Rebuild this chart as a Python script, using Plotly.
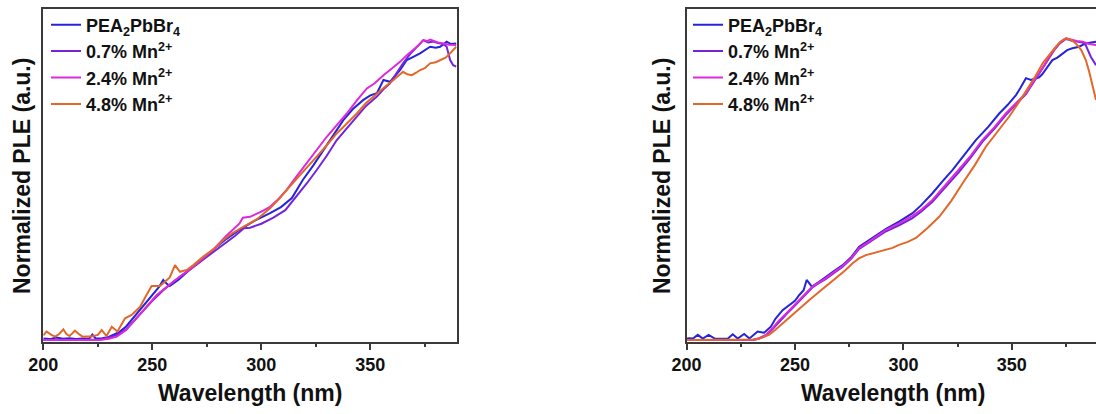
import plotly.graph_objects as go

# ---------------- data: normalized PLE spectra ----------------
# Left panel
left_pea_x = [200, 203, 206, 209, 212, 215, 218, 221, 222.5, 224, 227, 230, 233, 235, 238, 243, 249, 253, 255, 256,
              258, 262, 267, 272, 278, 284, 290, 297, 304, 309, 314, 319, 324, 328.5, 333, 337.6, 342, 346.8, 350,
              353, 356, 359, 363.6, 366.7, 369, 372.8, 377.4, 380, 382, 385, 387, 389.4]
left_pea_y = [0.005, 0.003, 0.008, 0.004, 0.006, 0.003, 0.005, 0.004, 0.018, 0.005, 0.006, 0.01, 0.02, 0.027, 0.045,
              0.088, 0.143, 0.175, 0.199, 0.19, 0.179, 0.2, 0.232, 0.26, 0.30, 0.335, 0.365, 0.395, 0.42, 0.44, 0.47,
              0.53, 0.58, 0.629, 0.68, 0.728, 0.765, 0.795, 0.81, 0.817, 0.861, 0.855, 0.894, 0.927, 0.935, 0.949,
              0.971, 0.968, 0.971, 0.988, 0.98, 0.982]

left_07_x = [200, 210, 220, 226, 230, 234, 238, 242, 246, 250, 255, 260, 265, 270, 276, 282, 288, 292, 294.8, 300,
             305.5, 311, 316.2, 321, 325.4, 330, 334.6, 339, 343.8, 348, 353, 356, 359, 362, 365, 368, 371.3, 374.3,
             376.5, 378.9, 381, 383.5, 385, 386.6, 388, 389.4]
left_07_y = [0, 0, 0, 0.002, 0.008, 0.018, 0.035, 0.065, 0.098, 0.13, 0.165, 0.195, 0.222, 0.25, 0.28, 0.315, 0.345,
             0.37, 0.372, 0.385, 0.405, 0.43, 0.475, 0.52, 0.563, 0.61, 0.662, 0.70, 0.74, 0.775, 0.806, 0.83, 0.85,
             0.885, 0.916, 0.945, 0.971, 0.993, 0.985, 0.988, 0.983, 0.98, 0.971, 0.927, 0.91, 0.905]

left_24_x = [200, 210, 220, 226, 230, 233.7, 238, 241, 244.4, 248, 252, 256, 259.6, 263, 267, 272, 278, 284, 290,
             291.5, 294.8, 300, 304, 308, 311.6, 316, 320.8, 325, 330, 335, 339.2, 344, 348.4, 352, 356, 360, 363.6,
             367, 369.7, 372, 374.3, 376, 377.4, 379, 381, 383.5, 386, 389.4]
left_24_y = [0, 0, 0, 0, 0.004, 0.011, 0.033, 0.058, 0.088, 0.118, 0.149, 0.172, 0.193, 0.212, 0.232, 0.262, 0.30,
             0.345, 0.386, 0.405, 0.408, 0.425, 0.441, 0.468, 0.497, 0.54, 0.585, 0.628, 0.673, 0.715, 0.75, 0.795,
             0.833, 0.85, 0.877, 0.90, 0.921, 0.945, 0.96, 0.975, 0.993, 0.99, 0.995, 0.99, 0.985, 0.982, 0.978, 0.977]

left_48_x = [200, 201.5, 203.5, 205.4, 207.3, 209.2, 210.6, 212, 213.3, 214.5, 216.3, 218, 220, 222, 225, 226.8, 229,
             231.4, 234, 237.5, 240.5, 244.4, 247, 249.7, 253.5, 255.8, 258, 260.4, 262.7, 265.8, 268.8, 273.4, 278,
             282.6, 287, 291.7, 298, 304, 308.5, 313, 319, 325.4, 330, 334.6, 339, 343.8, 348, 353, 357, 360.6, 363,
             365, 367, 369, 371, 372.8, 375, 377.4, 380, 382, 384.5, 386.6, 388, 389.4]
left_48_y = [0.015, 0.028, 0.018, 0.011, 0.02, 0.035, 0.02, 0.013, 0.022, 0.031, 0.02, 0.011, 0.012, 0.012, 0.017,
             0.033, 0.013, 0.044, 0.028, 0.072, 0.083, 0.11, 0.145, 0.179, 0.179, 0.193, 0.207, 0.248, 0.226, 0.232,
             0.248, 0.276, 0.30, 0.331, 0.355, 0.375, 0.40, 0.436, 0.47, 0.508, 0.555, 0.607, 0.645, 0.684, 0.715,
             0.75, 0.785, 0.817, 0.84, 0.861, 0.875, 0.888, 0.88, 0.877, 0.885, 0.894, 0.90, 0.916, 0.92, 0.927,
             0.935, 0.949, 0.96, 0.971]

# Right panel
right_pea_x = [200, 201.3, 203, 205.2, 207.5, 210.2, 213, 216, 219, 221.3, 223.6, 226.6, 229, 232.8, 235.8, 238.9,
               241, 244.3, 247.4, 250, 252, 254, 255.4, 257.8, 261, 264.3, 268, 272, 276, 279.6, 284, 288, 292, 298,
               304.2, 308, 313.4, 318, 322.7, 328, 333.4, 339, 344.2, 348, 351.9, 354, 356.5, 358.8, 361, 362.6, 364,
               366.4, 368.7, 371, 373.3, 375.5, 377.9, 381, 384, 386, 388.8]
right_pea_y = [0.004, 0.006, 0.005, 0.017, 0.005, 0.017, 0.005, 0.004, 0.004, 0.019, 0.005, 0.02, 0.005, 0.028, 0.024,
               0.044, 0.07, 0.099, 0.116, 0.13, 0.149, 0.165, 0.199, 0.177, 0.192, 0.21, 0.228, 0.248, 0.275, 0.309,
               0.33, 0.348, 0.368, 0.392, 0.42, 0.445, 0.486, 0.525, 0.563, 0.612, 0.662, 0.705, 0.75, 0.778, 0.811,
               0.835, 0.867, 0.861, 0.865, 0.87, 0.88, 0.905, 0.927, 0.935, 0.949, 0.96, 0.966, 0.971, 0.982, 0.985,
               0.988]

right_07_x = [200, 215, 225, 230.5, 233.5, 236.6, 239.5, 242.8, 246, 249, 253, 258, 261, 264.3, 268, 272, 276, 279.6,
              284, 288, 292, 298, 304, 308, 313.4, 319, 325.6, 331, 336.4, 342, 347.2, 352, 356.5, 359.5, 362.6, 365,
              367.2, 369.5, 371.8, 373.5, 374.9, 376.5, 378, 380, 382.6, 384, 386.4, 388.8]
right_07_y = [0, 0, 0, 0, 0.005, 0.015, 0.035, 0.062, 0.085, 0.107, 0.137, 0.174, 0.188, 0.202, 0.222, 0.243, 0.27,
              0.302, 0.322, 0.342, 0.36, 0.38, 0.403, 0.424, 0.458, 0.503, 0.556, 0.604, 0.656, 0.70, 0.745, 0.781,
              0.814, 0.848, 0.882, 0.908, 0.936, 0.96, 0.98, 0.99, 0.997, 0.994, 0.99, 0.988, 0.985, 0.977, 0.938, 0.91]

right_24_x = [200, 215, 225, 230.5, 233.5, 236.6, 239.5, 242.8, 246, 249, 253, 258, 261, 264.3, 268, 272, 276, 279.6,
              284, 288, 292, 298, 304, 308, 313.4, 319, 325.6, 331, 336.4, 342, 347.2, 352, 356.5, 359.5, 362.6, 365,
              367.2, 369.5, 371.8, 373.5, 374.9, 376.5, 378, 380, 382.6, 385.7, 388.8]
right_24_y = [0, 0, 0, 0, 0.006, 0.017, 0.038, 0.066, 0.088, 0.11, 0.14, 0.177, 0.19, 0.205, 0.225, 0.245, 0.272,
              0.305, 0.325, 0.345, 0.365, 0.386, 0.41, 0.43, 0.464, 0.51, 0.563, 0.61, 0.662, 0.705, 0.75, 0.785, 0.817,
              0.85, 0.883, 0.91, 0.938, 0.962, 0.982, 0.992, 0.999, 0.996, 0.993, 0.99, 0.988, 0.98, 0.977]

right_48_x = [200, 215, 225, 232, 235, 238, 241, 244.3, 248, 252, 256.5, 261.2, 265, 268.9, 272.7, 276.6, 279.5, 282.7,
              287, 292, 295, 298, 302, 305.8, 311, 316.5, 322, 327.3, 333, 338, 343.5, 348.8, 353.5, 358, 361, 364.2,
              367.2, 370.3, 372.5, 374.9, 377, 379.5, 382, 384.1, 385.6, 387.2, 388.8]
right_48_y = [0, 0, 0, 0.002, 0.008, 0.017, 0.034, 0.055, 0.08, 0.105, 0.132, 0.16, 0.182, 0.204, 0.228, 0.254, 0.27,
              0.281, 0.29, 0.298, 0.305, 0.315, 0.325, 0.338, 0.37, 0.408, 0.46, 0.519, 0.58, 0.64, 0.69, 0.74, 0.79,
              0.839, 0.875, 0.916, 0.945, 0.971, 0.988, 0.999, 0.995, 0.982, 0.96, 0.927, 0.89, 0.839, 0.795]

series_names = ["PEA<sub>2</sub>PbBr<sub>4</sub>", "0.7% Mn<sup>2+</sup>", "2.4% Mn<sup>2+</sup>", "4.8% Mn<sup>2+</sup>"]
series_colors = ["#2424d8", "#7424dc", "#dc2ada", "#e2682a"]

x_ticks = [200, 250, 300, 350]
x_minor_ticks = [225, 275, 325, 375]
x_title = "Wavelength (nm)"
y_title = "Normalized PLE (a.u.)"

# ---------------- figure ----------------
W, H = 1096, 414
FONT = "Liberation Sans, Arial, sans-serif"
AXIS_COLOR = "#3a3a3a"
LINE_W = 2.0

fig = go.Figure()

left_sets = [(left_pea_x, left_pea_y), (left_07_x, left_07_y), (left_24_x, left_24_y), (left_48_x, left_48_y)]
right_sets = [(right_pea_x, right_pea_y), (right_07_x, right_07_y), (right_24_x, right_24_y), (right_48_x, right_48_y)]

for (xs, ys), name, color in zip(left_sets, series_names, series_colors):
    fig.add_trace(go.Scatter(x=xs, y=ys, mode="lines", name=name, line=dict(color=color, width=LINE_W),
                             xaxis="x", yaxis="y", legend="legend"))
for (xs, ys), name, color in zip(right_sets, series_names, series_colors):
    fig.add_trace(go.Scatter(x=xs, y=ys, mode="lines", name=name, line=dict(color=color, width=LINE_W),
                             xaxis="x2", yaxis="y2", legend="legend2"))

px = lambda p: p / W
py = lambda p: 1 - p / H

y_dom = [py(342), py(8.5)]
y_range = [-0.0066, 1.0977]

x_common = dict(
    tickvals=x_ticks, ticks="outside", ticklen=6, tickwidth=1.5, tickcolor=AXIS_COLOR,
    showline=True, linecolor=AXIS_COLOR, linewidth=1.5, mirror=True, showgrid=False, zeroline=False,
    tickfont=dict(family=FONT, size=18, color="#111111", weight="bold"), automargin=False,
    minor=dict(tickvals=x_minor_ticks, ticks="outside", ticklen=3, tickwidth=1.5, tickcolor=AXIS_COLOR),
)
y_common = dict(range=y_range, showticklabels=False, ticks="", showline=True, linecolor=AXIS_COLOR,
                linewidth=1.5, showgrid=False, zeroline=False, domain=y_dom, automargin=False)

legend_common = dict(
    font=dict(family=FONT, size=18, color="#111111", weight="bold"),
    bgcolor="rgba(0,0,0,0)", borderwidth=0, tracegroupgap=0,
    xanchor="left", yanchor="top",
)

fig.update_layout(
    width=W, height=H, margin=dict(l=0, r=0, t=0, b=0, autoexpand=False),
    paper_bgcolor="white", plot_bgcolor="white",
    xaxis=dict(domain=[px(43.3), px(456.7)], range=[200, 389.6], anchor="y", **x_common),
    yaxis=dict(anchor="x", mirror=True, **y_common),
    xaxis2=dict(domain=[px(686.5), 1.0], range=[200, 388.8], anchor="y2", **x_common),
    yaxis2=dict(anchor="x2", mirror=False, **y_common),
    legend=dict(x=px(46), y=py(6.5), **legend_common),
    legend2=dict(x=px(688), y=py(6.5), **legend_common),
    showlegend=True,
)

title_font = dict(family=FONT, size=23, color="#111111", weight="bold")
for cx in (250, 893):
    fig.add_annotation(text=x_title, x=px(cx), y=py(393), xref="paper", yref="paper",
                       showarrow=False, font=title_font, xanchor="center", yanchor="middle")
for cx in (22, 662):
    fig.add_annotation(text=y_title, x=px(cx), y=py(176), xref="paper", yref="paper", textangle=-90,
                       showarrow=False, font=title_font, xanchor="center", yanchor="middle")

fig.write_html("out.html")
